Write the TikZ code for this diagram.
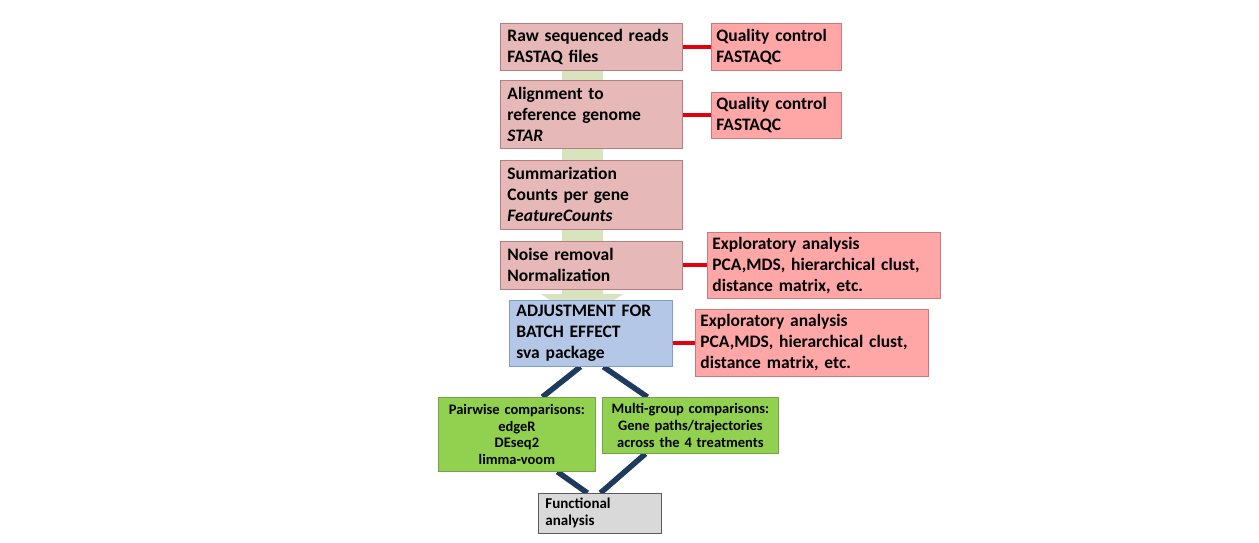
\documentclass[tikz,border=0pt]{standalone}
\usepackage{fontspec}
\setmainfont{Carlito}
\usepackage{xcolor}
\definecolor{stepfill}{HTML}{E6B8B7}
\definecolor{stepdraw}{HTML}{B57F7E}
\definecolor{qcfill}{HTML}{FFA7A7}
\definecolor{qcdraw}{HTML}{C47C7C}
\definecolor{batchfill}{HTML}{B4C7E7}
\definecolor{batchdraw}{HTML}{7F9CCB}
\definecolor{testfill}{HTML}{92D050}
\definecolor{testdraw}{HTML}{7A9E4C}
\definecolor{funcfill}{HTML}{D9D9D9}
\definecolor{funcdraw}{HTML}{595959}
\definecolor{flowgreen}{HTML}{D7E4BD}
\definecolor{linkred}{HTML}{E3000F}
\definecolor{linknavy}{HTML}{1F3A5F}
\usepackage{tikz}
\usetikzlibrary{positioning, calc, backgrounds}
\tikzset{
  stepbox/.style ={rectangle, draw=stepdraw, line width=0.8pt, fill=stepfill, anchor=north west,
                   align=left, inner xsep=7pt, inner ysep=2pt, font=\bfseries\fontsize{17.5}{21}\selectfont},
  qcbox/.style   ={rectangle, draw=qcdraw, line width=0.8pt, fill=qcfill, anchor=north west,
                   align=left, inner xsep=5pt, inner ysep=2pt, font=\bfseries\fontsize{17.5}{21}\selectfont},
  batchbox/.style={rectangle, draw=batchdraw, line width=0.8pt, fill=batchfill, anchor=north west,
                   align=left, inner xsep=7pt, inner ysep=2pt, font=\bfseries\fontsize{17.5}{21}\selectfont},
  testbox/.style ={rectangle, draw=testdraw, line width=0.8pt, fill=testfill, anchor=north west,
                   align=center, inner xsep=2pt, inner ysep=2pt, font=\bfseries\fontsize{14.5}{16.8}\selectfont},
  funcbox/.style ={rectangle, draw=funcdraw, line width=0.8pt, fill=funcfill, anchor=north west,
                   align=left, inner xsep=7pt, inner ysep=2pt, font=\bfseries\fontsize{15}{17}\selectfont},
  redlink/.style ={line width=4pt, color=linkred},
  navylink/.style={line width=5.5pt, color=linknavy},
}
\begin{document}
\begin{tikzpicture}[x=1pt, y=-1pt]
  \useasboundingbox (0,0) rectangle (1259,543);
  % green flow arrow behind the pipeline
  \fill[flowgreen] (562,70) -- (603,70) -- (603,294) -- (623,294) -- (582.5,322)
                   -- (541,294) -- (562,294) -- cycle;
  % main pipeline
  \node[stepbox, text width=168pt, minimum height=47pt] (raw) at (500,23)
    {Raw sequenced reads\\FASTAQ files};
  \node[stepbox, text width=168pt, minimum height=68pt] (align) at (500,80)
    {Alignment to\\reference genome\\\textit{STAR}};
  \node[stepbox, text width=168pt, minimum height=69pt] (summ) at (500,160)
    {Summarization\\Counts per gene\\\textit{FeatureCounts}};
  \node[stepbox, text width=168pt, minimum height=48pt] (noise) at (500,241)
    {Noise removal\\Normalization};
  \node[batchbox, text width=149pt, minimum height=66pt] (adjust) at (509,300)
    {ADJUSTMENT FOR\\BATCH EFFECT\\sva package};
  % quality / exploratory side boxes
  \node[qcbox, text width=120pt, minimum height=47pt] (qcraw) at (711,23)
    {Quality control\\FASTAQC};
  \node[qcbox, text width=120pt, minimum height=46pt] (qcalign) at (711,92)
    {Quality control\\FASTAQC};
  \node[qcbox, text width=223pt, minimum height=66pt] (explnoise) at (707,232)
    {Exploratory analysis\\PCA,MDS, hierarchical clust,\\distance matrix, etc.};
  \node[qcbox, text width=223pt, minimum height=67pt] (explbatch) at (695,309)
    {Exploratory analysis\\PCA,MDS, hierarchical clust,\\distance matrix, etc.};
  % differential expression
  \node[testbox, text width=153pt, minimum height=74pt] (pairwise) at (438,397)
    {Pairwise comparisons:\\edgeR\\DEseq2\\limma-voom};
  \node[testbox, text width=172pt, minimum height=56pt] (multi) at (602,397)
    {Multi-group comparisons:\\Gene paths/trajectories\\across the 4 treatments};
  \node[funcbox, text width=109pt, minimum height=40pt] (func) at (538,493)
    {Functional\\analysis};
  % connectors
  \draw[redlink] (raw.east) -- (qcraw.west);
  \draw[redlink] (align.east |- qcalign.west) -- (qcalign.west);
  \draw[redlink] (noise.east) -- (explnoise.west);
  \draw[redlink] (explbatch.west -| adjust.east) -- (explbatch.west);
  \begin{scope}[on background layer]
    \draw[navylink] ([xshift=-10.5pt]adjust.south) -- ([xshift=25.5pt]pairwise.north);
    \draw[navylink] ([xshift=12.5pt]adjust.south) -- ([xshift=-43pt]multi.north);
    \draw[navylink] ([xshift=40.5pt]pairwise.south) -- ([xshift=-12.5pt]func.north);
    \draw[navylink] ([xshift=-45pt]multi.south) -- ([xshift=0.5pt]func.north);
  \end{scope}
\end{tikzpicture}
\end{document}
